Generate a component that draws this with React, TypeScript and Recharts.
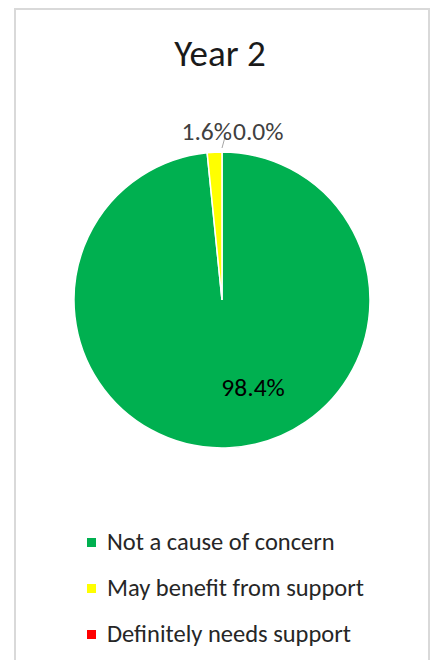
import React from "react";
import { PieChart, Pie, Cell, Legend } from "recharts";

const categories = [
  "Not a cause of concern",
  "May benefit from support",
  "Definitely needs support",
];
const shares = [98.4, 1.6, 0.0];
const colors = ["#00B050", "#FFFF00", "#FF0000"];

const data = categories.map((name, i) => ({ name, value: shares[i] }));

const FONT = "Carlito, Lato, sans-serif";

function renderLabel(props: any) {
  const { cx, cy, outerRadius, index, value } = props;
  const text = `${Number(value).toFixed(1)}%`;
  if (index === 0) {
    // best-fit inside the big slice, lower right of centre
    return (
      <text
        x={cx + outerRadius * 0.21}
        y={cy + outerRadius * 0.59}
        fill="#000"
        fontSize={25.5}
        fontFamily={FONT}
        textAnchor="middle"
        dominantBaseline="central"
      >
        {text}
      </text>
    );
  }
  // the two thin slices sit at the top, labels butt up against each other
  const top = cy - outerRadius;
  return (
    <g>
      {index === 1 && (
        <line
          x1={cx + 3}
          y1={top - 15}
          x2={cx}
          y2={top - 4}
          stroke="#a6a6a6"
          strokeWidth={1}
        />
      )}
      <text
        x={index === 1 ? cx + 10 : cx + 11}
        y={top - 21}
        fill="#404040"
        fontSize={25.5}
        fontFamily={FONT}
        textAnchor={index === 1 ? "end" : "start"}
        dominantBaseline="central"
      >
        {text}
      </text>
    </g>
  );
}

function LegendList() {
  return (
    <div style={{ fontFamily: FONT }}>
      {categories.map((c, i) => (
        <div
          key={c}
          style={{
            display: "flex",
            alignItems: "center",
            height: 46,
            fontSize: 24.5,
            color: "#262626",
            whiteSpace: "nowrap",
          }}
        >
          <span
            style={{
              display: "inline-block",
              width: 9,
              height: 9,
              background: colors[i],
              marginRight: 11,
            }}
          />
          {c}
        </div>
      ))}
    </div>
  );
}

export default function App() {
  return (
    <div
      style={{
        position: "absolute",
        left: 0,
        top: 0,
        width: 431,
        height: 660,
        background: "#fff",
        overflow: "hidden",
      }}
    >
      <div
        style={{
          position: "absolute",
          left: 14,
          top: 8,
          width: 412,
          height: 680,
          border: "2px solid #d9d9d9",
        }}
      />
      <div
        style={{
          position: "absolute",
          left: 0,
          width: 440,
          top: 36,
          lineHeight: "36px",
          textAlign: "center",
          fontFamily: FONT,
          fontSize: 37,
          color: "#1a1a1a",
        }}
      >
        Year 2
      </div>
      <div style={{ position: "absolute", left: 0, top: 0 }}>
        <PieChart
          width={431}
          height={660}
          margin={{ top: 0, right: 0, bottom: 0, left: 0 }}
        >
          <Pie
            data={data}
            dataKey="value"
            nameKey="name"
            cx={222}
            cy={300}
            outerRadius={148}
            startAngle={90}
            endAngle={-270}
            stroke="#fff"
            strokeWidth={1.5}
            label={renderLabel}
            labelLine={false}
            isAnimationActive={false}
          >
            {data.map((d, i) => (
              <Cell key={d.name} fill={colors[i]} />
            ))}
          </Pie>
          <Legend
            content={() => <LegendList />}
            wrapperStyle={{ left: 87, top: 519, width: 340 }}
          />
        </PieChart>
      </div>
    </div>
  );
}
